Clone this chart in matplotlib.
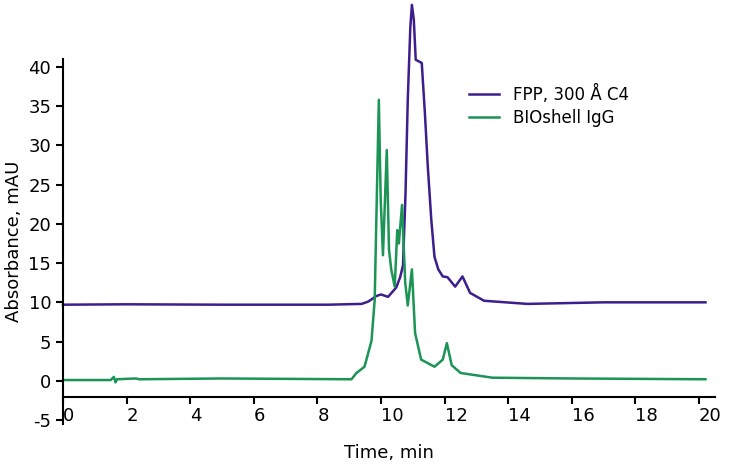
import matplotlib.pyplot as plt

plt.rcParams["axes.unicode_minus"] = False

# FPP, 300 A C4 trace (time in min, absorbance in mAU)
t_fpp = [0, 2, 5, 8.34, 9.39, 9.6, 9.85, 10.0, 10.22, 10.48, 10.6, 10.69, 10.77, 10.84, 10.92, 10.97,
         11.03, 11.09, 11.28, 11.38, 11.47, 11.58, 11.68, 11.8, 11.94, 12.09, 12.33, 12.56, 12.8,
         13.24, 14.6, 17, 20.2]
v_fpp = [9.7, 9.75, 9.7, 9.7, 9.8, 10.1, 10.8, 11.0, 10.7, 11.9, 13.2, 14.7, 24.0, 35.8, 45.0, 47.9,
         46.0, 40.9, 40.5, 34.0, 27.3, 20.5, 15.8, 14.2, 13.3, 13.2, 12.0, 13.3, 11.2,
         10.2, 9.8, 10.0, 10.0]

# BIOshell IgG trace
t_bio = [0, 1.5, 1.6, 1.65, 1.7, 2.3, 2.4, 5, 9.07, 9.22, 9.48, 9.7, 9.8, 9.93, 9.99, 10.06, 10.18,
         10.25, 10.32, 10.43, 10.51, 10.56, 10.66, 10.76, 10.84, 10.97, 11.07, 11.26, 11.68, 11.94,
         12.07, 12.22, 12.5, 13.5, 16, 20.2]
v_bio = [0.1, 0.1, 0.5, -0.2, 0.2, 0.3, 0.2, 0.3, 0.2, 0.97, 1.8, 5.1, 10.3, 35.8, 23, 16.0, 29.4,
         16.7, 14.2, 12.0, 19.2, 17.5, 22.4, 12.5, 9.6, 14.2, 6.1, 2.7, 1.8, 2.7,
         4.8, 2.0, 1.0, 0.4, 0.3, 0.2]

fig = plt.figure(figsize=(7.36, 4.73), dpi=100)
ax = fig.add_axes([63 / 736, 1 - 424 / 473, (715 - 63) / 736, (424 - 59) / 473])

ax.plot(t_fpp, v_fpp, color="#3d1e8c", lw=1.8, label="FPP, 300 Å C4", clip_on=False)
ax.plot(t_bio, v_bio, color="#1b9455", lw=1.8, label="BIOshell IgG", clip_on=False)

ax.set_xlim(0, 20.5)
ax.set_ylim(-5.5, 41)
ax.set_xticks(range(0, 21, 2))
ax.set_yticks(range(-5, 41, 5))
ax.spines["top"].set_visible(False)
ax.spines["right"].set_visible(False)
ax.spines["bottom"].set_position(("data", -2.1))
ax.spines["left"].set_linewidth(1.5)
ax.spines["bottom"].set_linewidth(1.5)
ax.tick_params(labelsize=13, width=1.5, length=5)
ax.tick_params(axis="x", pad=2)
for lbl in ax.get_xticklabels():
    lbl.set_horizontalalignment("left")
ax.set_xlabel("Time, min", fontsize=13, labelpad=14)
ax.set_ylabel("Absorbance, mAU", fontsize=13)
ax.legend(loc="upper left", bbox_to_anchor=(0.6, 0.97), frameon=False, fontsize=12,
          handlelength=1.8, labelspacing=0.3)

fig.savefig("out.png", dpi=100)
